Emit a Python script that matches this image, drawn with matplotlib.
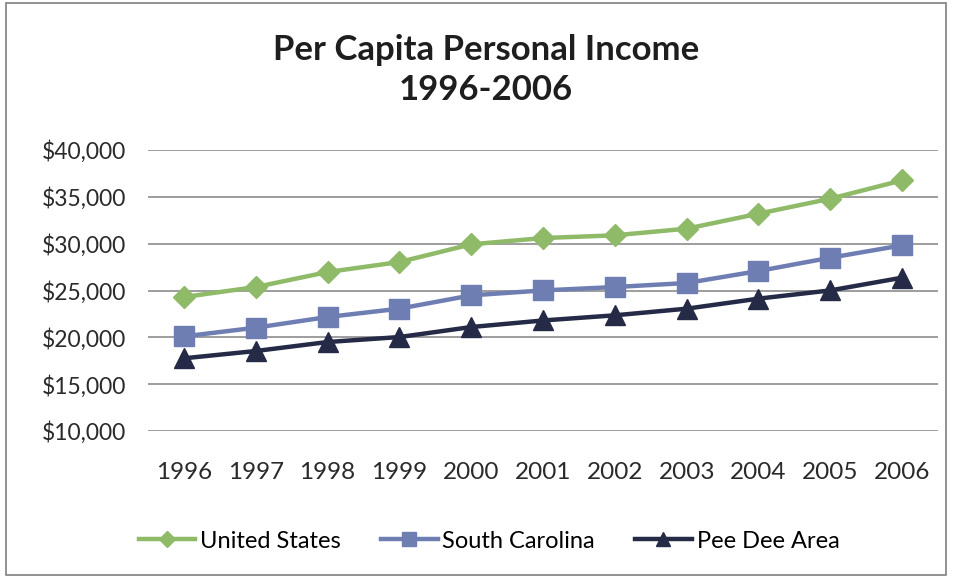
import matplotlib.pyplot as plt
from matplotlib.patches import Rectangle

# Per capita personal income, 1996-2006
years = ['1996', '1997', '1998', '1999', '2000', '2001',
         '2002', '2003', '2004', '2005', '2006']
united_states = [24300, 25370, 26970, 28040, 29930, 30600,
                 30890, 31600, 33200, 34800, 36760]
south_carolina = [20100, 21030, 22170, 23060, 24480, 25010,
                  25370, 25800, 27080, 28500, 29820]
pee_dee = [17760, 18540, 19500, 20030, 21100, 21800,
           22350, 23060, 24130, 25010, 26370]
yticks = [10000, 15000, 20000, 25000, 30000, 35000, 40000]

plt.rcParams['font.family'] = ['Lato', 'DejaVu Sans']

fig = plt.figure(figsize=(9.56, 5.77), dpi=100)
ax = fig.add_axes([148/956, 1 - 431/577, 790/956, 281/577])

x = list(range(len(years)))
ax.plot(x, united_states, color='#8FBA68', lw=3.2, marker='D', ms=11,
        label='United States')
ax.plot(x, south_carolina, color='#6E7EB3', lw=3.2, marker='s', ms=14,
        label='South Carolina')
ax.plot(x, pee_dee, color='#252A47', lw=3.2, marker='^', ms=14,
        label='Pee Dee Area')

ax.set_xlim(-0.5, 10.5)
ax.set_ylim(10000, 40000)
ax.set_yticks(yticks)
ax.set_yticklabels(['${:,}'.format(v) for v in yticks])
ax.set_xticks(x)
ax.set_xticklabels(years)
ax.tick_params(length=0, colors='#2a2a2a')
ax.tick_params(axis='x', pad=22, labelsize=17.5)
ax.tick_params(axis='y', pad=16, labelsize=16.5)
ax.grid(axis='y', color='#8c8c8c', lw=1.2)
ax.set_axisbelow(True)
for s in ax.spines.values():
    s.set_visible(False)

fig.text(486/956, 1 - 70/577, 'Per Capita Personal Income\n1996-2006',
         ha='center', va='center', fontsize=25, fontweight='bold',
         color='#1e1e1e', linespacing=1.33)

fig.legend(loc='center', bbox_to_anchor=(489/956, 1 - 541/577), ncol=3,
           frameon=False, fontsize=17, handlelength=2.4, handletextpad=0.2,
           columnspacing=1.7, markerscale=0.7)

fig.patches.append(Rectangle((6/956, 2/577), 940/956, 572/577,
                             transform=fig.transFigure, fill=False,
                             edgecolor='#7f7f7f', lw=1.2))

fig.savefig('out.png', dpi=100)
